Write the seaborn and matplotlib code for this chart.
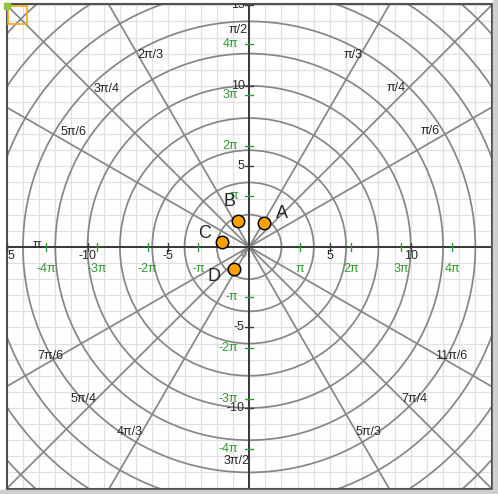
import numpy as np
import pandas as pd
import matplotlib
matplotlib.use("Agg")
import matplotlib.pyplot as plt
import matplotlib.patches as mpatches
import seaborn as sns

# values
x_ticks = [-15, -10, -5, 5, 10]
y_ticks = [-10, -5, 5, 10, 15]
pi_mult = [-4, -3, -2, -1, 1, 2, 3, 4]
pi_labels = ['-4π', '-3π', '-2π', '-π', 'π', '2π', '3π', '4π']
circle_radii = [2, 4, 6, 8, 10, 12, 14, 16, 18, 20, 22]
line_fracs = [0, 1/6, 1/4, 1/3, 1/2, 2/3, 3/4, 5/6]   # directions of the radial lines (x pi)
angle_fracs = [1/6, 1/4, 1/3, 1/2, 2/3, 3/4, 5/6, 1, 7/6, 5/4, 4/3, 3/2, 5/3, 7/4, 11/6]
angle_labels = ['π/6', 'π/4', 'π/3', 'π/2', '2π/3', '3π/4', '5π/6', 'π',
                '7π/6', '5π/4', '4π/3', '3π/2', '5π/3', '7π/4', '11π/6']
point_names = ['A', 'B', 'C', 'D']
point_x = [0.94, -0.68, -1.67, -0.91]
point_y = [1.50, 1.60, 0.33, -1.38]

# label offsets of the point names, in points
name_offsets = [(13, 7), (-6, 14), (-13, 6), (-15, -5)]

sns.set_style('white')
plt.rcParams['font.family'] = ['Liberation Sans', 'DejaVu Sans']

green = '#2f9a2f'
gray = '#868686'
W, H = 498, 494
fig = plt.figure(figsize=(W / 100, H / 100), dpi=100)
ax = fig.add_axes([6.5 / W, (H - 488.5) / H, 485 / W, 484.5 / H])
ax.set_xlim(-15.02, 14.98)
ax.set_ylim(-14.85, 15.08)
ax.set_aspect('auto')

# light square grid, one unit
ax.set_xticks(np.arange(-15, 16))
ax.set_yticks(np.arange(-15, 16))
ax.grid(True, color='#e0e0e0', lw=0.9, zorder=0)
ax.tick_params(length=0, labelbottom=False, labelleft=False)
for s in ax.spines.values():
    s.set_color('#505050')
    s.set_linewidth(1.5)

# polar grid: circles and radial lines
for r in circle_radii:
    ax.add_patch(mpatches.Circle((0, 0), r, fill=False, ec=gray, lw=1.25, zorder=1))
R = 25
for f in line_fracs:
    t = f * np.pi
    ax.plot([-R * np.cos(t), R * np.cos(t)], [-R * np.sin(t), R * np.sin(t)],
            color=gray, lw=1.25, zorder=1)

# axes
ax.axhline(0, color='#3a3a3a', lw=1.4, zorder=2)
ax.axvline(0, color='#3a3a3a', lw=1.4, zorder=2)

tk = 0.25
fs = 9
for v in x_ticks:
    ax.plot([v, v], [-tk, tk], color='#3a3a3a', lw=1, zorder=3)
    ax.text(v, -0.55, str(v), ha='center', va='center', fontsize=fs, clip_on=True, zorder=4)
for v in y_ticks:
    ax.plot([-tk, tk], [v, v], color='#3a3a3a', lw=1, zorder=3)
    ax.text(-0.28, v, str(v), ha='right', va='center', fontsize=fs, clip_on=True, zorder=4)
ax.text(-0.15, -0.15, '0', ha='right', va='top', fontsize=8, color='#777777', zorder=0.5)

for m, lab in zip(pi_mult, pi_labels):
    v = m * np.pi
    ax.plot([v, v], [-tk, tk], color=green, lw=1, zorder=3)
    ax.text(v, -1.35, lab, ha='center', va='center', fontsize=fs, color=green, zorder=4)
    ax.plot([-tk, tk], [v, v], color=green, lw=1, zorder=3)
    ax.text(-0.7, v, lab, ha='right', va='center', fontsize=fs, color=green, zorder=4)

# angle labels
for f, lab in zip(angle_fracs, angle_labels):
    t = f * np.pi
    c, s = np.cos(t), np.sin(t)
    px, py = 13 * c, 13 * s
    if abs(f - 1) < 1e-9:
        ha, va, off = 'left', 'bottom', (-5, -3)
    elif s > 1e-6:
        va = 'bottom'
        if abs(c) < 0.1:
            ha, off = 'right', (-1, 1)
        elif c > 0:
            ha, off = 'center', (-1, 3.5)
        else:
            ha, off = 'left', (-5, 3)
    else:
        va = 'center'
        if abs(c) < 0.1:
            ha, off = 'right', (0, -3.5)
        elif c > 0:
            ha, off = 'left', (3 if c > 0.6 else 1, -3)
        else:
            ha, off = 'right', (-3 if c < -0.6 else -1, -3)
    ax.annotate(lab, (px, py), xytext=off, textcoords='offset points',
                ha=ha, va=va, fontsize=fs, zorder=4)

# the points
pts = pd.DataFrame({'name': point_names, 'x': point_x, 'y': point_y})
sns.scatterplot(data=pts, x='x', y='y', color='#ffa200', edgecolor='black',
                s=80, linewidth=1.1, zorder=5, ax=ax, legend=False)
for (n, x, y), off in zip(pts.itertuples(index=False), name_offsets):
    ax.annotate(n, (x, y), xytext=off, textcoords='offset points',
                ha='center', va='center', fontsize=13, zorder=6)
ax.set_xlabel('')
ax.set_ylabel('')

# view decoration: shadow and corner icon
fig.patches.append(mpatches.Rectangle((493 / W, 0), 5 / W, 1, color='#cfcfcf',
                                      transform=fig.transFigure, figure=fig))
fig.patches.append(mpatches.Rectangle((0, 0), 1, 4 / H, color='#cfcfcf',
                                      transform=fig.transFigure, figure=fig))
fig.patches.append(mpatches.Rectangle((7.5 / W, (H - 24) / H), 19 / W, 18 / H, fill=False,
                                      ec='#f5a623', lw=1.2, transform=fig.transFigure,
                                      figure=fig, zorder=10))
fig.patches.append(mpatches.Rectangle((4 / W, (H - 9) / H), 6 / W, 6 / H, color='#8cc63f',
                                      transform=fig.transFigure, figure=fig, zorder=10))

fig.savefig('out.png', dpi=100)
